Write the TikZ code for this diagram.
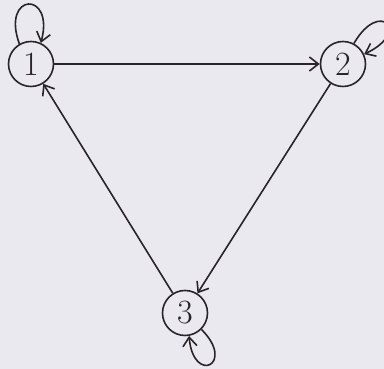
\documentclass[tikz,border=0pt]{standalone}
\usetikzlibrary{arrows.meta}
\definecolor{paper}{RGB}{234,233,240}
\definecolor{ink}{RGB}{40,36,40}
\tikzset{
  state/.style={circle,draw=ink,line width=1.6pt,minimum size=45pt,inner sep=0pt,
    font=\fontsize{34}{34}\selectfont,text=ink},
  edge/.style={draw=ink,line width=1.6pt,-{Straight Barb[length=9pt,width=14pt,line width=1.6pt]}}
}
\begin{document}
\begin{tikzpicture}[x=1pt,y=1pt]
  % background sheet
  \fill[paper] (0,0) rectangle (384,369);
  \useasboundingbox (0,0) rectangle (384,369);
  % states
  \node[state] (s1) at (31,305) {1};
  \node[state] (s2) at (343,305) {2};
  \node[state] (s3) at (185,56) {3};
  % transitions
  \draw[edge] (s1) -- (s2);
  \draw[edge] (s2) -- (s3);
  \draw[edge] (s3) -- (s1);
  % self loops
  \draw[edge] (s1.120) to[out=110,in=75,looseness=6.5] (s1.65);
  \draw[edge] (s2.62) to[out=60,in=25,looseness=9] (s2.25);
  \draw[edge] (s3.-45) to[out=-45,in=-85,looseness=9] (s3.-80);
\end{tikzpicture}
\end{document}
